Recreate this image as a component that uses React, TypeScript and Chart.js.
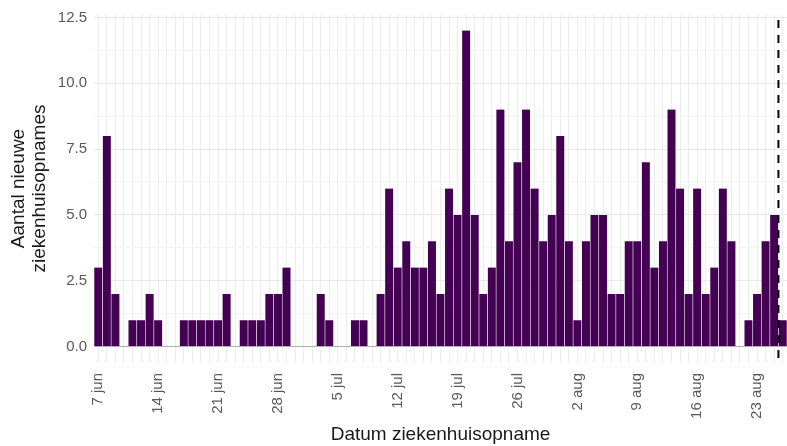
import React, { useEffect, useRef } from "react";
import { Chart, registerables } from "chart.js";

Chart.register(...registerables);

const days: string[] = [
  "7 jun", "8 jun", "9 jun", "10 jun", "11 jun", "12 jun", "13 jun", "14 jun", "15 jun", "16 jun",
  "17 jun", "18 jun", "19 jun", "20 jun", "21 jun", "22 jun", "23 jun", "24 jun", "25 jun", "26 jun",
  "27 jun", "28 jun", "29 jun", "30 jun",
  "1 jul", "2 jul", "3 jul", "4 jul", "5 jul", "6 jul", "7 jul", "8 jul", "9 jul", "10 jul",
  "11 jul", "12 jul", "13 jul", "14 jul", "15 jul", "16 jul", "17 jul", "18 jul", "19 jul", "20 jul",
  "21 jul", "22 jul", "23 jul", "24 jul", "25 jul", "26 jul", "27 jul", "28 jul", "29 jul", "30 jul", "31 jul",
  "1 aug", "2 aug", "3 aug", "4 aug", "5 aug", "6 aug", "7 aug", "8 aug", "9 aug", "10 aug",
  "11 aug", "12 aug", "13 aug", "14 aug", "15 aug", "16 aug", "17 aug", "18 aug", "19 aug", "20 aug",
  "21 aug", "22 aug", "23 aug", "24 aug", "25 aug", "26 aug",
];

const opnames: number[] = [
  // juni 7-30
  3, 8, 2, 0, 1, 1, 2, 1, 0, 0, 1, 1, 1, 1, 1, 2, 0, 1, 1, 1, 2, 2, 3, 0,
  // juli 1-31
  0, 0, 2, 1, 0, 0, 1, 1, 0, 2, 6, 3, 4, 3, 3, 4, 2, 6, 5, 12, 5, 2, 3, 9, 4, 7, 9, 6, 4, 5, 8,
  // augustus 1-26
  4, 1, 4, 5, 5, 2, 2, 4, 4, 7, 3, 4, 9, 6, 2, 6, 2, 3, 6, 4, 0, 1, 2, 4, 5, 1,
];

const xTickLabels: string[] = ["7 jun", "14 jun", "21 jun", "28 jun", "5 jul", "12 jul", "19 jul", "26 jul", "2 aug", "9 aug", "16 aug", "23 aug"];
const yMajorTicks: number[] = [0, 2.5, 5, 7.5, 10, 12.5];
const yMinorTicks: number[] = [1.25, 3.75, 6.25, 8.75, 11.25];
const cutoffAfterDay = "25 aug";

const FONT = "'Liberation Sans', Arial, sans-serif";

const cutoffPlugin = {
  id: "cutoffLine",
  afterDatasetsDraw(chart: any) {
    const xs = chart.scales.x;
    const i = days.indexOf(cutoffAfterDay);
    const px = (xs.getPixelForValue(i) + xs.getPixelForValue(i + 1)) / 2;
    const { top, bottom } = chart.chartArea;
    const ctx = chart.ctx;
    ctx.save();
    ctx.beginPath();
    ctx.setLineDash([8, 7]);
    ctx.strokeStyle = "#000";
    ctx.lineWidth = 2;
    ctx.moveTo(px, top + 6);
    ctx.lineTo(px, bottom);
    ctx.stroke();
    ctx.restore();
  },
};

export default function App() {
  const ref = useRef<HTMLCanvasElement | null>(null);

  useEffect(() => {
    if (!ref.current) return;
    Chart.defaults.font.family = FONT;
    const chart = new Chart(ref.current, {
      type: "bar",
      data: {
        labels: days,
        datasets: [
          {
            data: opnames,
            backgroundColor: "#440154",
            borderColor: "rgba(255,255,255,0.55)",
            borderWidth: { left: 0.6, right: 0.6, top: 0, bottom: 0 },
            borderSkipped: false,
            barPercentage: 1,
            categoryPercentage: 1,
          },
        ],
      },
      options: {
        responsive: false,
        animation: false,
        devicePixelRatio: 1,
        layout: { padding: { top: 14, left: 0, right: 0, bottom: 0 } },
        plugins: { legend: { display: false }, tooltip: { enabled: false } },
        scales: {
          x: {
            type: "category",
            offset: true,
            grid: { offset: false, color: "#ededed", lineWidth: 1, drawTicks: false },
            border: { display: false },
            ticks: {
              autoSkip: false,
              minRotation: 90,
              maxRotation: 90,
              padding: 10,
              color: "#5a5a5a",
              font: { family: FONT, size: 15 },
              callback: (_v: any, i: number) => (xTickLabels.includes(days[i]) ? days[i] : ""),
            },
            title: {
              display: true,
              text: "Datum ziekenhuisopname",
              color: "#1a1a1a",
              font: { family: FONT, size: 19 },
              padding: { top: 0, bottom: 0 },
            },
            afterFit: (s: any) => {
              s.height = 83;
              s.paddingLeft = 0;
              s.paddingRight = 0;
            },
          },
          y: {
            min: -0.625,
            max: 12.63,
            afterBuildTicks: (s: any) => {
              s.ticks = [...yMajorTicks, ...yMinorTicks].sort((a, b) => a - b).map((v) => ({ value: v }));
            },
            grid: {
              drawTicks: false,
              lineWidth: 1,
              color: (ctx: any) => {
                const v = ctx.tick ? ctx.tick.value : 0;
                if (v === 0) return "#b3abba";
                return yMinorTicks.includes(v) ? "#f3f3f3" : "#e8e8e8";
              },
            },
            border: { display: false },
            ticks: {
              padding: 7,
              color: "#5a5a5a",
              font: { family: FONT, size: 15 },
              callback: (v: any) => (yMajorTicks.includes(Number(v)) ? Number(v).toFixed(1) : ""),
            },
            title: {
              display: true,
              text: ["Aantal nieuwe", "ziekenhuisopnames"],
              color: "#1a1a1a",
              font: { family: FONT, size: 19, lineHeight: 1.1 },
              padding: { top: 8, bottom: 0 },
            },
            afterFit: (s: any) => {
              s.width = 94;
              s.paddingTop = 0;
              s.paddingBottom = 0;
            },
          },
        },
      },
      plugins: [cutoffPlugin],
    });
    return () => chart.destroy();
  }, []);

  return (
    <div style={{ position: "absolute", left: 0, top: 0, width: 787, height: 446, background: "#fff" }}>
      <canvas ref={ref} width={787} height={446} />
    </div>
  );
}
